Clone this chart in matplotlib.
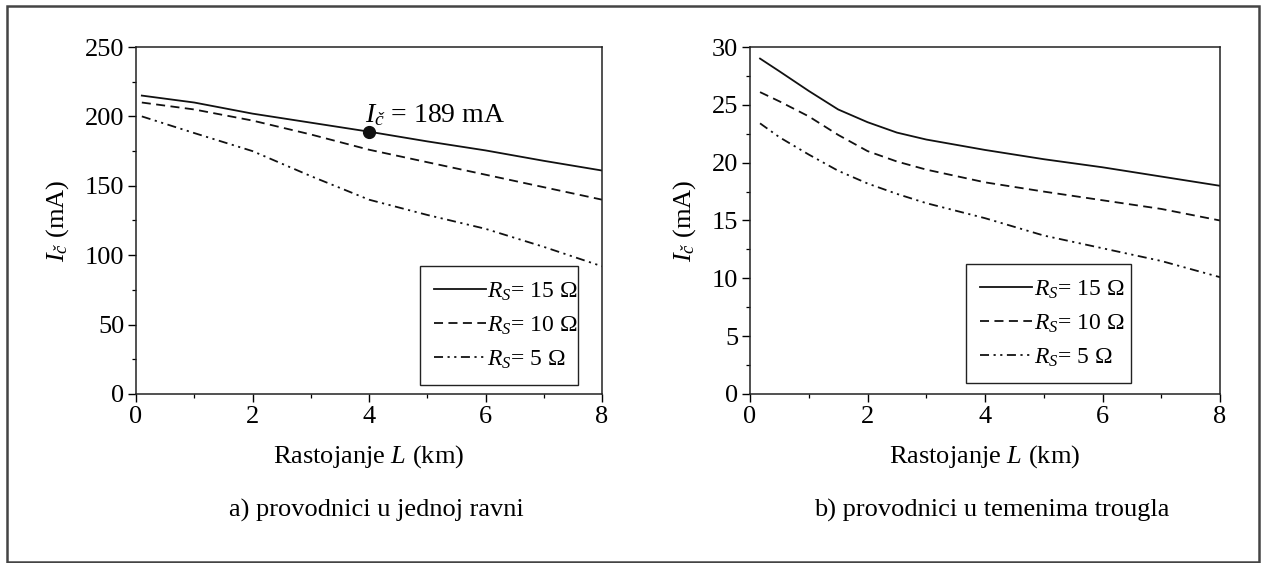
import matplotlib
matplotlib.use('Agg')
import matplotlib.pyplot as plt
from matplotlib.patches import Rectangle
from matplotlib.ticker import MultipleLocator

plt.rcParams['font.family'] = ['Liberation Serif', 'DejaVu Serif']
plt.rcParams['mathtext.fontset'] = 'custom'
plt.rcParams['mathtext.rm'] = 'Liberation Serif'
plt.rcParams['mathtext.it'] = 'Liberation Serif:italic'
plt.rcParams['mathtext.bf'] = 'Liberation Serif:bold'

# a) conductors in one plane
left_L = [0.1, 1, 2, 3, 4, 5, 6, 7, 8]
left_rs15 = [215, 210, 202, 195.5, 189, 182, 175.5, 168, 161]
left_rs10 = [210, 205, 197, 187, 176, 167, 158, 149, 140]
left_rs5 = [200, 188, 175, 157, 140, 129, 119, 106, 92]

# b) conductors at triangle vertices
right_L = [0.17, 0.5, 1, 1.5, 2, 2.5, 3, 4, 5, 6, 7, 8]
right_rs15 = [29.0, 27.9, 26.2, 24.6, 23.5, 22.6, 22.0, 21.1, 20.3, 19.6, 18.8, 18.0]
right_rs10 = [26.1, 25.3, 24.0, 22.4, 21.0, 20.1, 19.4, 18.3, 17.5, 16.75, 16.0, 15.0]
right_rs5 = [23.4, 22.2, 20.7, 19.3, 18.2, 17.3, 16.5, 15.2, 13.7, 12.6, 11.5, 10.1]

rs_labels = [r'$R_S$= 15 Ω', r'$R_S$= 10 Ω', r'$R_S$= 5 Ω']
point_L = 4
point_I = 189

styles = ['-', (0, (5, 3)), (0, (5, 2.5, 1.2, 2.5, 1.2, 2.5))]

fig = plt.figure(figsize=(12.64, 5.63), dpi=100)
ax1 = fig.add_axes([0.1076, 0.3002, 0.3687, 0.6163])
ax2 = fig.add_axes([0.5934, 0.3002, 0.3718, 0.6163])


def style_axes(ax, ymax, ymajor, yminor, legend_box):
    ax.set_xlim(0, 8)
    ax.set_ylim(0, ymax)
    ax.xaxis.set_major_locator(MultipleLocator(2))
    ax.xaxis.set_minor_locator(MultipleLocator(1))
    ax.yaxis.set_major_locator(MultipleLocator(ymajor))
    ax.yaxis.set_minor_locator(MultipleLocator(yminor))
    ax.tick_params(which='major', direction='out', length=5.5, width=1,
                   labelsize=19, pad=3)
    ax.tick_params(which='minor', direction='out', length=3.2, width=0.9)
    for s in ax.spines.values():
        s.set_linewidth(1.1)
        s.set_color('#222222')
    ax.set_xlabel(r'Rastojanje $L$ (km)', fontsize=19, labelpad=11)
    ax.set_ylabel(r'$I_{č}$ (mA)', fontsize=19, labelpad=10)
    leg = ax.legend(loc='lower left', bbox_to_anchor=legend_box,
                    mode='expand', borderaxespad=0, fontsize=17,
                    handlelength=2.2, handletextpad=0.05, labelspacing=0.5,
                    borderpad=0.6, fancybox=False, framealpha=1)
    leg.get_frame().set_edgecolor('#222222')
    leg.get_frame().set_linewidth(1.0)


for ax, xs, series in [(ax1, left_L, [left_rs15, left_rs10, left_rs5]),
                       (ax2, right_L, [right_rs15, right_rs10, right_rs5])]:
    for ys, ls, lab in zip(series, styles, rs_labels):
        ax.plot(xs, ys, color='#111111', linewidth=1.3, linestyle=ls, label=lab)

ax1.plot([point_L], [point_I], 'o', color='#111111', markersize=8.5, zorder=5)
ax1.annotate(r'$I_{č}$ = %d mA' % point_I, xy=(point_L, point_I),
             xytext=(3.93, 196), fontsize=20, ha='left', va='baseline')

style_axes(ax1, 250, 50, 25, (0.609, 0.026, 0.339, 0.349))
style_axes(ax2, 30, 5, 2.5, (0.46, 0.032, 0.35, 0.337))

fig.text(376 / 1264, 1 - 510 / 563, 'a) provodnici u jednoj ravni',
         fontsize=19, ha='center', va='center')
fig.text(992 / 1264, 1 - 510 / 563, 'b) provodnici u temenima trougla',
         fontsize=19, ha='center', va='center')

# outer frame round both panels
fig.patches.append(Rectangle((7 / 1264, 1 / 563), 1252 / 1264, 556 / 563,
                             transform=fig.transFigure, fill=False,
                             edgecolor='#444444', linewidth=1.8))

fig.savefig('out.png', dpi=100)
